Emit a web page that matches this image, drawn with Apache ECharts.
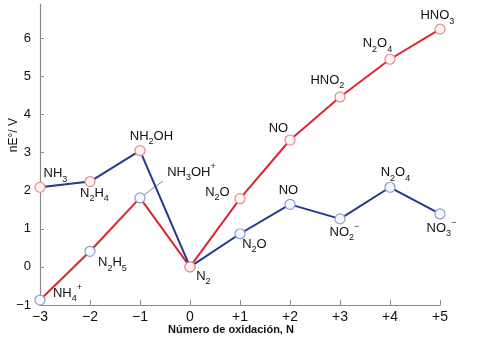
<!DOCTYPE html>
<html>
<head>
<meta charset="utf-8">
<script src="https://cdn.jsdelivr.net/npm/echarts@6/dist/echarts.min.js"></script>
<style>
html,body{margin:0;padding:0;background:#fff;}
#c{width:499px;height:364px;}
</style>
</head>
<body>
<div id="c"></div>
<script>
// ---- data ----
const oxStates = [-3, -2, -1, 0, 1, 2, 3, 4, 5];
const xTickLabels = ['−3', '−2', '−1', '0', '+1', '+2', '+3', '+4', '+5'];
const yTickValues = [-1, 0, 1, 2, 3, 4, 5, 6];
const acidValues = [-0.87, 0.41, 1.81, 0, 1.79, 3.33, 4.46, 5.45, 6.24];
const acidLabels = ['NH{sub|4}{sup|+}', 'N{sub|2}H{sub|5}', 'NH{sub|3}OH{sup|+}', 'N{sub|2}', 'N{sub|2}O', 'NO', 'HNO{sub|2}', 'N{sub|2}O{sub|4}', 'HNO{sub|3}'];
const baseValues = [2.09, 2.24, 3.05, 0, 0.87, 1.64, 1.26, 2.09, 1.39];
const baseLabels = ['NH{sub|3}', 'N{sub|2}H{sub|4}', 'NH{sub|2}OH', '', 'N{sub|2}O', 'NO', 'NO{sub|2}{sup|−}', 'N{sub|2}O{sub|4}', 'NO{sub|3}{sup|−}'];

// ---- styles ----
const acidOffsets = [[28, -6], [23, 12], [52, -25], [14, 10], [-22, -6], [-11, -11], [-12, -16], [-12, -15], [-2, -13]];
const baseOffsets = [[16, -13], [5, 12], [12, -14], [0, 0], [15, 11], [-1, -13], [5, 14], [6, -14], [2, 15]];
const acidEdge = ['b', 'b', 'b', 'p', 'p', 'p', 'p', 'p', 'p'];
const baseEdge = ['p', 'p', 'p', 'p', 'b', 'b', 'b', 'b', 'b'];
const EDGE = { p: '#e58a90', b: '#8c9cc4' };
const FILL = { p: '#fff4f4', b: '#f6f8ff' };
const RED = '#dc2532';
const BLUE = '#25388c';
const FONT = 'Liberation Sans, Arial, sans-serif';
const SYM = 10;

const rich = {
  a: { fontSize: 13, lineHeight: 20, color: '#111', fontFamily: FONT },
  sub: { fontSize: 9, lineHeight: 9, verticalAlign: 'bottom', color: '#111', fontFamily: FONT },
  sup: { fontSize: 9, lineHeight: 9, verticalAlign: 'top', color: '#111', fontFamily: FONT }
};

function wrapMain(s) {
  return s.split(/(\{(?:sub|sup)\|[^}]*\})/).filter(t => t.length).map(t => t.startsWith('{') ? t : '{a|' + t + '}').join('');
}

function buildData(values, labels, offsets, edges) {
  return oxStates.map((x, i) => ({
    value: [x, values[i]],
    itemStyle: { color: FILL[edges[i]], borderColor: EDGE[edges[i]], borderWidth: 1.2 },
    label: {
      show: labels[i] !== '',
      formatter: wrapMain(labels[i]),
      position: [SYM / 2 + offsets[i][0], SYM / 2 + offsets[i][1]],
      align: 'center',
      verticalAlign: 'middle',
      rich: rich
    }
  }));
}

const chart = echarts.init(document.getElementById('c'), null, { renderer: 'canvas' });
const axisColor = '#8a8a8a';
chart.setOption({
  backgroundColor: '#fff',
  animation: false,
  grid: { left: 40, right: 59, top: 4, bottom: 59, containLabel: false },
  xAxis: {
    type: 'value', min: -3, max: 5, interval: 1,
    axisLine: { onZero: false, lineStyle: { color: axisColor, width: 1.2 } },
    axisTick: { inside: true, length: 5, lineStyle: { color: axisColor } },
    splitLine: { show: false },
    axisLabel: {
      margin: 5, fontSize: 14, color: '#111', fontFamily: FONT,
      formatter: v => xTickLabels[oxStates.indexOf(v)] || ''
    }
  },
  yAxis: {
    type: 'value', min: -1, max: 6.9,
    axisLine: { show: true, onZero: false, lineStyle: { color: axisColor, width: 1.2 } },
    axisTick: { show: true, inside: true, length: 4, customValues: yTickValues, lineStyle: { color: axisColor } },
    splitLine: { show: false },
    axisLabel: {
      customValues: yTickValues, margin: 9, fontSize: 13, color: '#111', fontFamily: FONT,
      formatter: v => v < 0 ? '−' + Math.abs(v) : String(v)
    }
  },
  series: [
    {
      type: 'line', name: 'acid', z: 3,
      data: buildData(acidValues, acidLabels, acidOffsets, acidEdge),
      symbol: 'circle', symbolSize: SYM,
      lineStyle: { color: RED, width: 2 },
      labelLayout: { hideOverlap: false }
    },
    {
      type: 'line', name: 'base', z: 4,
      data: buildData(baseValues, baseLabels, baseOffsets, baseEdge),
      symbol: 'circle', symbolSize: SYM,
      lineStyle: { color: BLUE, width: 2 },
      labelLayout: { hideOverlap: false }
    }
  ]
});

const p = chart.convertToPixel({ seriesIndex: 0 }, [oxStates[2], acidValues[2]]);
chart.setOption({
  graphic: [
    { type: 'line', z: 1, shape: { x1: p[0], y1: p[1], x2: p[0] + 23, y2: p[1] - 17 }, style: { stroke: '#8a8a8a', lineWidth: 1 } },
    { type: 'text', left: 8, top: 118, rotation: Math.PI / 2, style: { text: 'nE°/ V', fontSize: 12, fill: '#111', fontFamily: FONT } },
    { type: 'text', left: 168, top: 324, style: { text: 'Número de oxidación, N', fontSize: 11, fontWeight: 'bold', fill: '#111', fontFamily: FONT } }
  ]
});
</script>
</body>
</html>
